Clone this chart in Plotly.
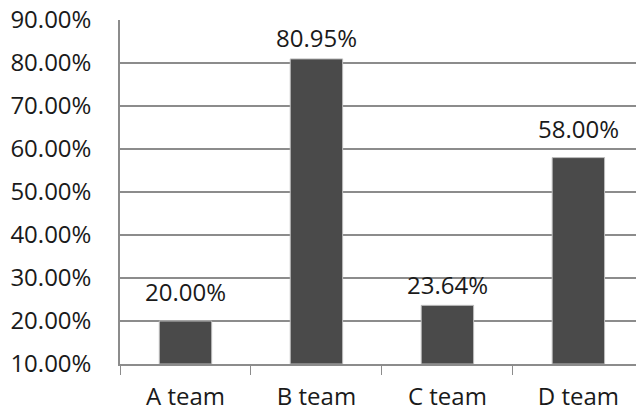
import plotly.graph_objects as go

categories = ["A team", "B team", "C team", "D team"]
values = [20.00, 80.95, 23.64, 58.00]
labels = ["20.00%", "80.95%", "23.64%", "58.00%"]
tick_vals = [10, 20, 30, 40, 50, 60, 70, 80, 90]
tick_text = ["10.00%", "20.00%", "30.00%", "40.00%", "50.00%", "60.00%", "70.00%", "80.00%", "90.00%"]

# style: per-label pixel lift above bar tops (as in the reference)
label_lift_px = [11, 3, 2, 11]

FONT = "Open Sans"
GRID = "#8c8c8c"
TXT = "#1a1a1a"
FS = 24

fig = go.Figure(
    go.Bar(
        x=categories,
        y=[v - 10 for v in values],
        base=10,
        marker=dict(color="#4a4a4a", line=dict(color="#bdbdbd", width=1)),
        width=0.4,
        hoverinfo="skip",
    )
)

for c, v, t, s in zip(categories, values, labels, label_lift_px):
    fig.add_annotation(
        x=c, y=v, text=t, showarrow=False,
        yanchor="bottom", yshift=s,
        font=dict(family=FONT, size=FS, color=TXT),
    )

fig.update_layout(
    width=636,
    height=413,
    margin=dict(l=120, r=0, t=20, b=49),
    paper_bgcolor="white",
    plot_bgcolor="white",
    showlegend=False,
    font=dict(family=FONT, size=FS, color=TXT),
)
fig.update_xaxes(
    range=[-0.5, 3.44],
    automargin=False,
    showline=True,
    linecolor=GRID,
    linewidth=1.5,
    ticks="outside",
    tickson="boundaries",
    ticklen=9,
    tickcolor=GRID,
    ticklabelstandoff=10,
    showgrid=False,
)
fig.update_yaxes(
    range=[10, 90],
    automargin=False,
    tickvals=tick_vals,
    ticktext=tick_text,
    showline=True,
    linecolor=GRID,
    linewidth=1.5,
    showgrid=True,
    gridcolor=GRID,
    gridwidth=1.5,
    zeroline=False,
    ticks="",
    ticklabelstandoff=22,
)

fig.write_html("out.html")
